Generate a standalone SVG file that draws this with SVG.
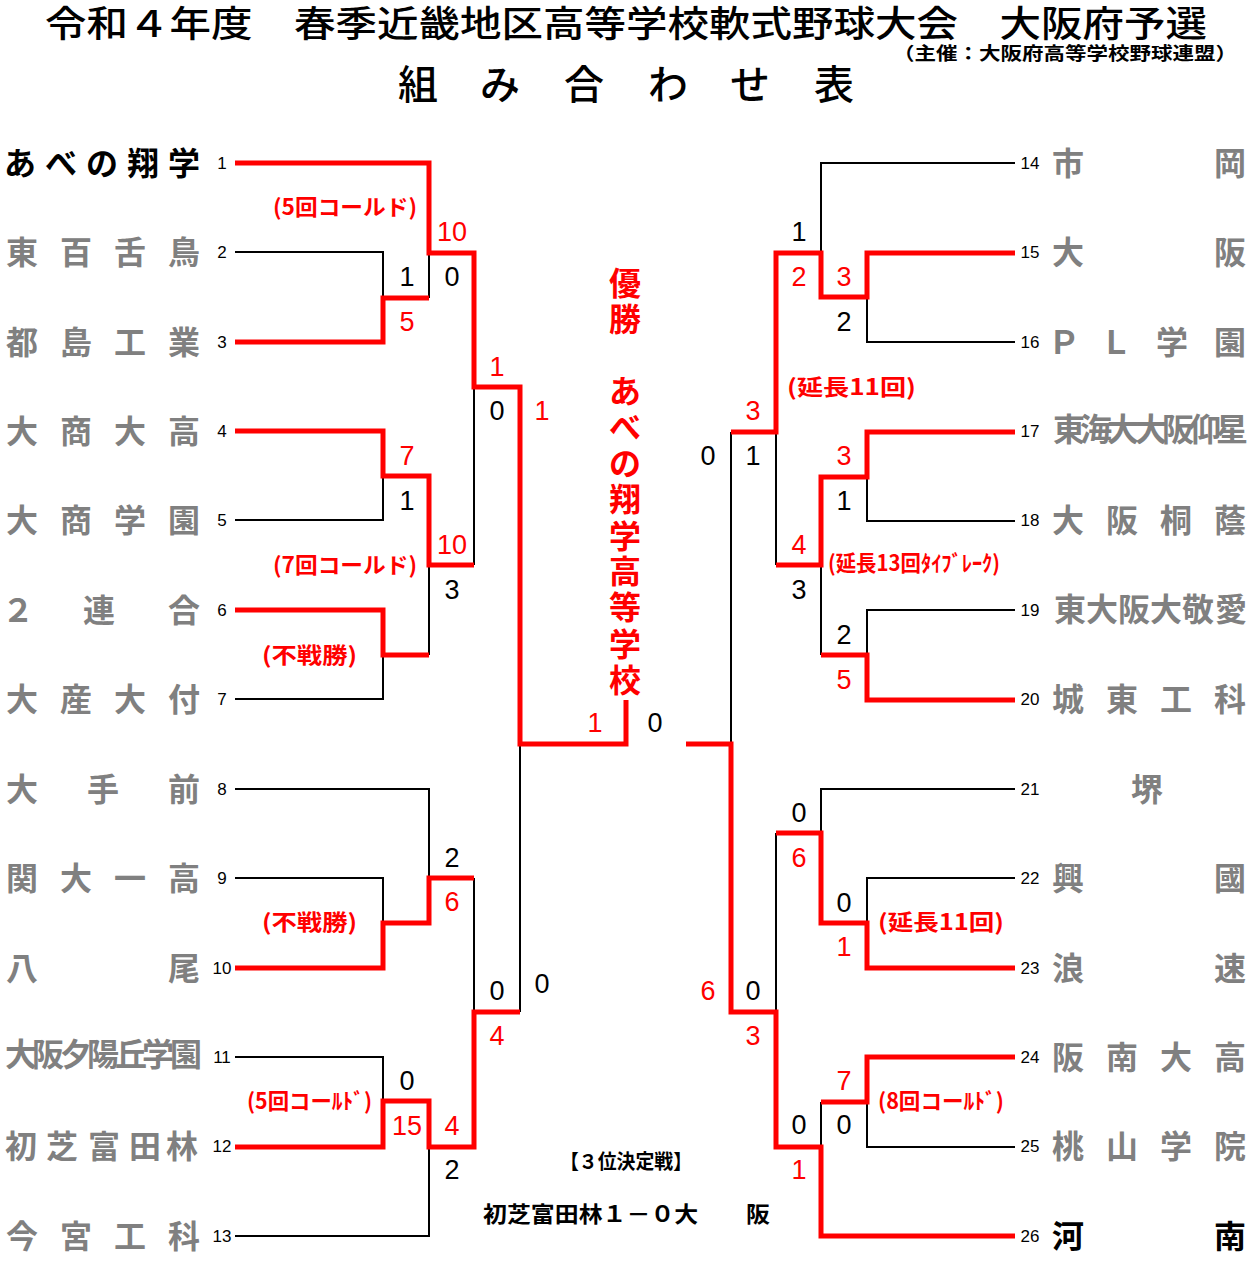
<svg xmlns="http://www.w3.org/2000/svg" width="1251" height="1281" viewBox="0 0 1251 1281">
<style>
.bg{fill:#fff}
.r{stroke:#f00;stroke-width:5;fill:none;stroke-linejoin:miter}
.k{stroke:#000;stroke-width:2;fill:none}
.jp{font-family:"Noto Sans CJK JP","Noto Sans CJK SC",sans-serif}
.name{font-family:"Noto Sans CJK JP","Noto Sans CJK SC",sans-serif;font-weight:700;font-size:32px;fill:#808080;text-anchor:middle}
.win{fill:#000}
.num{font-family:"Liberation Sans",Arial,sans-serif;font-size:17px;fill:#000;text-anchor:middle}
.sc{font-family:"Liberation Sans",Arial,sans-serif;font-size:27px;text-anchor:middle}
.sr{fill:#f00}
.sk{fill:#000}
.note{font-family:"Noto Sans CJK JP","Noto Sans CJK SC",sans-serif;font-weight:700;font-size:22px;fill:#f00}
.champ{font-family:"Noto Sans CJK JP","Noto Sans CJK SC",sans-serif;font-weight:700;font-size:32px;fill:#f00;text-anchor:middle}
</style>
<rect class="bg" x="0" y="0" width="1251" height="1281"/>

<g id="header">
<text class="jp" x="45" y="37" font-size="36" font-weight="500" textLength="1162" lengthAdjust="spacingAndGlyphs">令和４年度　春季近畿地区高等学校軟式野球大会　大阪府予選</text>
<text class="jp" x="893" y="60" font-size="18" font-weight="700" textLength="344" lengthAdjust="spacingAndGlyphs">（主催：大阪府高等学校野球連盟）</text>
<text class="jp" x="418 500 584 668 750 834" y="99" font-size="40" font-weight="500" text-anchor="middle">組み合わせ表</text>
</g>

<g id="connectors">
<!-- left black -->
<path class="k" d="M235,252H383V298"/>
<path class="k" d="M235,520H383V476"/>
<path class="k" d="M235,699H383V655"/>
<path class="k" d="M235,878H383V923"/>
<path class="k" d="M235,1057H383V1101"/>
<path class="k" d="M235,789H429V878"/>
<path class="k" d="M235,1236H429V1147"/>
<path class="k" d="M429,253V298"/>
<path class="k" d="M429,565V655"/>
<path class="k" d="M474,387V565"/>
<path class="k" d="M474,878V1012"/>
<path class="k" d="M520,744V1012"/>
<!-- right black -->
<path class="k" d="M1015,163H821V253"/>
<path class="k" d="M1015,342H867V297"/>
<path class="k" d="M1015,521H867V477"/>
<path class="k" d="M1015,610H867V655"/>
<path class="k" d="M1015,789H821V833"/>
<path class="k" d="M1015,878H867V923"/>
<path class="k" d="M1015,1147H867V1102"/>
<path class="k" d="M776,432V565"/>
<path class="k" d="M821,565V655"/>
<path class="k" d="M776,833V1012"/>
<path class="k" d="M821,1102V1147"/>
<path class="k" d="M731,432V744"/>
<!-- left red -->
<path class="r" d="M235,163H429V253H474V387H520V744H626V700"/>
<path class="r" d="M235,342H383V298H429"/>
<path class="r" d="M235,431H383V476H429V565H474"/>
<path class="r" d="M235,610H383V655H429"/>
<path class="r" d="M235,968H383V923H429V878H474"/>
<path class="r" d="M235,1147H383V1101H429V1147H474V1012H520"/>
<!-- right red -->
<path class="r" d="M1015,253H867V297H821V253H776V432H731"/>
<path class="r" d="M1015,432H867V477H821V565H776"/>
<path class="r" d="M1015,700H867V655H821"/>
<path class="r" d="M1015,968H867V923H821V833H776"/>
<path class="r" d="M1015,1057H867V1102H821"/>
<path class="r" d="M1015,1236H821V1147H776V1012H731V744H686"/>
</g>

<g id="team-1"><text class="name win" x="20 61 102 143 184" y="175">あべの翔学</text><text class="num" x="222" y="169">1</text></g>
<g id="team-2"><text class="name" x="22 76 130 184" y="264">東百舌鳥</text><text class="num" x="222" y="258">2</text></g>
<g id="team-3"><text class="name" x="22 76 130 184" y="354">都島工業</text><text class="num" x="222" y="348">3</text></g>
<g id="team-4"><text class="name" x="22 76 130 184" y="443">大商大高</text><text class="num" x="222" y="437">4</text></g>
<g id="team-5"><text class="name" x="22 76 130 184" y="532">大商学園</text><text class="num" x="222" y="526">5</text></g>
<g id="team-6"><text class="name" x="18 99 184" y="622">２連合</text><text class="num" x="222" y="616">6</text></g>
<g id="team-7"><text class="name" x="22 76 130 184" y="711">大産大付</text><text class="num" x="222" y="705">7</text></g>
<g id="team-8"><text class="name" x="22 103 184" y="801">大手前</text><text class="num" x="222" y="795">8</text></g>
<g id="team-9"><text class="name" x="22 76 130 184" y="890">関大一高</text><text class="num" x="222" y="884">9</text></g>
<g id="team-10"><text class="name" x="22 184" y="980">八尾</text><text class="num" x="222" y="974">10</text></g>
<g id="team-11"><text class="name" font-size="25" x="21 48 76 103 131 158 186" y="1066">大阪夕陽丘学園</text><text class="num" x="222" y="1063">11</text></g>
<g id="team-12"><text class="name" x="21 62 104 145 182" y="1158">初芝富田林</text><text class="num" x="222" y="1152">12</text></g>
<g id="team-13"><text class="name" x="22 76 130 184" y="1248">今宮工科</text><text class="num" x="222" y="1242">13</text></g>

<g id="team-14"><text class="num" x="1030" y="169">14</text><text class="name" x="1068 1230" y="175">市岡</text></g>
<g id="team-15"><text class="num" x="1030" y="258">15</text><text class="name" x="1068 1230" y="264">大阪</text></g>
<g id="team-16"><text class="num" x="1030" y="348">16</text><text class="name" x="1064 1116 1172 1230" y="354">ＰＬ学園</text></g>
<g id="team-17"><text class="num" x="1030" y="437">17</text><text class="name" font-size="25" x="1069 1096 1123 1151 1178 1205 1232" y="441">東海大大阪仰星</text></g>
<g id="team-18"><text class="num" x="1030" y="526">18</text><text class="name" x="1068 1122 1176 1230" y="532">大阪桐蔭</text></g>
<g id="team-19"><text class="num" x="1030" y="616">19</text><text class="name" font-size="29" x="1070 1102 1134 1166 1198 1231" y="621">東大阪大敬愛</text></g>
<g id="team-20"><text class="num" x="1030" y="705">20</text><text class="name" x="1068 1122 1176 1230" y="711">城東工科</text></g>
<g id="team-21"><text class="num" x="1030" y="795">21</text><text class="name" x="1147" y="801">堺</text></g>
<g id="team-22"><text class="num" x="1030" y="884">22</text><text class="name" x="1068 1230" y="890">興國</text></g>
<g id="team-23"><text class="num" x="1030" y="974">23</text><text class="name" x="1068 1230" y="980">浪速</text></g>
<g id="team-24"><text class="num" x="1030" y="1063">24</text><text class="name" x="1068 1122 1176 1230" y="1069">阪南大高</text></g>
<g id="team-25"><text class="num" x="1030" y="1152">25</text><text class="name" x="1068 1122 1176 1230" y="1158">桃山学院</text></g>
<g id="team-26"><text class="num" x="1030" y="1242">26</text><text class="name win" x="1068 1230" y="1248">河南</text></g>

<g id="scores">
<text class="sc sr" x="452" y="241">10</text>
<text class="sc sk" x="452" y="286">0</text>
<text class="sc sk" x="407" y="286">1</text>
<text class="sc sr" x="407" y="331">5</text>
<text class="sc sr" x="497" y="376">1</text>
<text class="sc sk" x="497" y="420">0</text>
<text class="sc sr" x="542" y="420">1</text>
<text class="sc sr" x="407" y="465">7</text>
<text class="sc sk" x="407" y="510">1</text>
<text class="sc sr" x="452" y="554">10</text>
<text class="sc sk" x="452" y="599">3</text>
<text class="sc sr" x="595" y="732">1</text>
<text class="sc sk" x="655" y="732">0</text>
<text class="sc sk" x="452" y="867">2</text>
<text class="sc sr" x="452" y="911">6</text>
<text class="sc sk" x="497" y="1000">0</text>
<text class="sc sr" x="497" y="1045">4</text>
<text class="sc sk" x="542" y="993">0</text>
<text class="sc sk" x="407" y="1090">0</text>
<text class="sc sr" x="407" y="1135">15</text>
<text class="sc sr" x="452" y="1135">4</text>
<text class="sc sk" x="452" y="1179">2</text>
<text class="sc sk" x="799" y="241">1</text>
<text class="sc sr" x="799" y="286">2</text>
<text class="sc sr" x="844" y="286">3</text>
<text class="sc sk" x="844" y="331">2</text>
<text class="sc sr" x="753" y="420">3</text>
<text class="sc sk" x="708" y="465">0</text>
<text class="sc sk" x="753" y="465">1</text>
<text class="sc sr" x="844" y="465">3</text>
<text class="sc sk" x="844" y="510">1</text>
<text class="sc sr" x="799" y="554">4</text>
<text class="sc sk" x="799" y="599">3</text>
<text class="sc sk" x="844" y="644">2</text>
<text class="sc sr" x="844" y="689">5</text>
<text class="sc sk" x="799" y="822">0</text>
<text class="sc sr" x="799" y="867">6</text>
<text class="sc sk" x="844" y="912">0</text>
<text class="sc sr" x="844" y="956">1</text>
<text class="sc sr" x="708" y="1000">6</text>
<text class="sc sk" x="753" y="1000">0</text>
<text class="sc sr" x="753" y="1045">3</text>
<text class="sc sr" x="844" y="1090">7</text>
<text class="sc sk" x="844" y="1134">0</text>
<text class="sc sk" x="799" y="1134">0</text>
<text class="sc sr" x="799" y="1179">1</text>
</g>

<g id="notes">
<text class="note" x="273" y="215" textLength="144" lengthAdjust="spacingAndGlyphs">(5回コールド)</text>
<text class="note" x="273" y="573" textLength="144" lengthAdjust="spacingAndGlyphs">(7回コールド)</text>
<text class="note" x="262" y="663" font-size="23" textLength="95" lengthAdjust="spacingAndGlyphs">(不戦勝)</text>
<text class="note" x="262" y="930" font-size="23" textLength="95" lengthAdjust="spacingAndGlyphs">(不戦勝)</text>
<text class="note" x="247" y="1109" textLength="125" lengthAdjust="spacingAndGlyphs">(5回コーﾙﾄﾞ)</text>
<text class="note" x="787" y="395" textLength="129" lengthAdjust="spacingAndGlyphs">(延長11回)</text>
<text class="note" x="828" y="571" font-size="17" textLength="172" lengthAdjust="spacingAndGlyphs">(延長13回ﾀｲﾌﾞﾚｰｸ)</text>
<text class="note" x="878" y="930" textLength="126" lengthAdjust="spacingAndGlyphs">(延長11回)</text>
<text class="note" x="878" y="1109" textLength="126" lengthAdjust="spacingAndGlyphs">(8回コーﾙﾄﾞ)</text>
</g>

<g id="champion">
<text class="champ" x="625 625" y="295 331">優勝</text>
<text class="champ" x="625 625 625 625 625 625 625 625 625" y="403 439 475 511 548 583 619 656 692">あべの翔学高等学校</text>
</g>

<g id="third-place">
<text class="jp" x="560" y="1169" font-size="20" font-weight="700" textLength="132" lengthAdjust="spacingAndGlyphs">【３位決定戦】</text>
<text class="jp" x="483" y="1222" font-size="22" font-weight="700" textLength="287" lengthAdjust="spacingAndGlyphs">初芝富田林１－０大　　阪</text>
</g>
</svg>
